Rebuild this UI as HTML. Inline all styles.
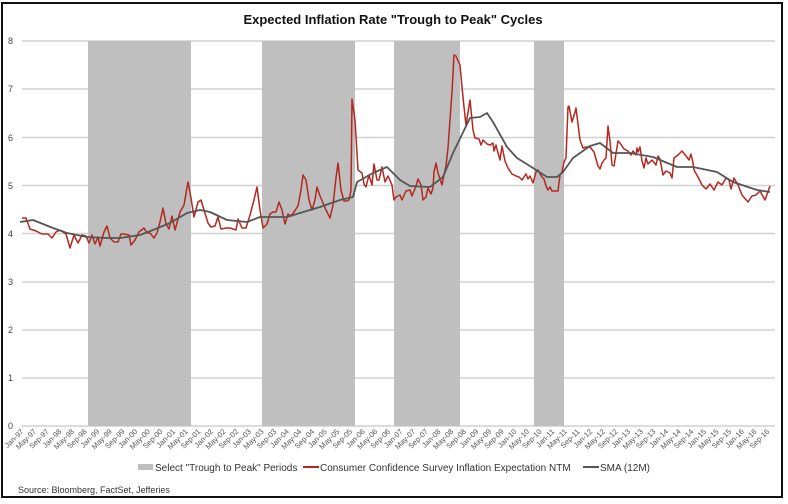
<!DOCTYPE html>
<html><head><meta charset="utf-8"><style>
html,body{margin:0;padding:0;background:#fff;}
svg{display:block;font-family:"Liberation Sans",sans-serif;}
</style></head><body>
<svg width="788" height="504" viewBox="0 0 788 504" xmlns="http://www.w3.org/2000/svg">
<rect x="0" y="0" width="788" height="504" fill="#fff"/>
<rect x="2" y="3" width="780" height="494" fill="none" stroke="#111" stroke-width="2"/>
<text x="393" y="24" text-anchor="middle" font-size="13" font-weight="bold" fill="#111">Expected Inflation Rate "Trough to Peak" Cycles</text>
<g stroke="#d0d0d0" stroke-width="1.5">
<line x1="22" y1="41" x2="775" y2="41"/><line x1="22" y1="89" x2="775" y2="89"/>
<line x1="22" y1="137.5" x2="775" y2="137.5"/><line x1="22" y1="185.5" x2="775" y2="185.5"/>
<line x1="22" y1="233.5" x2="775" y2="233.5"/><line x1="22" y1="282" x2="775" y2="282"/>
<line x1="22" y1="330" x2="775" y2="330"/><line x1="22" y1="378" x2="775" y2="378"/>
<line x1="22" y1="426" x2="775" y2="426"/>
</g>
<g fill="#bfbfbf">
<rect x="88" y="41" width="103" height="385"/>
<rect x="262" y="41" width="93" height="385"/>
<rect x="394" y="41" width="66" height="385"/>
<rect x="534" y="41" width="30" height="385"/>
</g>
<g font-size="9" fill="#444" text-anchor="end">
<text x="13" y="44">8</text><text x="13" y="92">7</text><text x="13" y="141">6</text><text x="13" y="189">5</text>
<text x="13" y="237">4</text><text x="13" y="285">3</text><text x="13" y="333">2</text><text x="13" y="381">1</text><text x="13" y="429">0</text>
</g>
<polyline fill="none" stroke="#b5281e" stroke-width="1.5" stroke-linejoin="round" points="22,218 26,218 30,229 36,231 42,234 48,234 52,238 56,232 60,230 66,234 70,248 74,235 78,243 82,235 86,236 89,243 92,235 95,244 98,237 100,246 104,232 107,226 110,238 114,242 118,242 121,234 124,234 129,235 131,245 135,240 139,232 144,228 147,233 150,233 154,238 157,233 160,222 163,208 166,224 169,229 172,216 175,230 180,212 184,205 188,182 191,198 194,217 198,202 201,200 204,210 208,223 211,227 215,226 218,217 221,229 226,228 230,228 236,230 238,219 242,228 246,228 250,215 254,200 257,187 260,210 263,228 267,224 270,214 273,212 276,212 279,202 282,210 285,224 288,214 291,216 294,212 298,206 301,190 303,175 306,180 309,200 312,210 315,200 317,187 320,196 323,203 326,210 330,218 333,205 336,178 338,163 341,190 344,201 347,201 349,200 351,190 352,99 355,120 358,170 362,173 364,184 366,187 369,175 372,185 374,164 377,180 379,180 382,167 385,182 388,176 392,185 394,200 396,197 400,195 402,200 406,191 410,190 412,196 416,186 418,179 421,185 423,200 426,197 428,188 431,194 433,188 434,172 436,163 438,173 442,185 444,175 446,166 448,148 452,92 454,55 456,56 460,65 462,87 464,107 466,125 470,100 473,130 475,138 479,139 481,145 483,140 487,144 490,145 493,143 494,151 496,145 498,153 500,160 502,146 505,161 508,168 512,174 516,176 519,177 522,180 526,174 528,179 530,176 533,183 536,172 538,170 542,177 544,179 546,186 548,190 550,187 552,191 556,191 558,191 560,175 562,172 564,162 566,158 568,107 569,106 572,122 575,112 576,108 578,124 580,140 583,148 586,147 590,147 594,152 598,166 600,169 602,163 604,160 606,158 608,126 610,141 612,165 614,166 618,141 620,143 624,149 628,151 631,155 633,151 636,155 637,148 638,152 640,147 642,161 644,168 646,158 648,164 652,160 656,165 658,156 660,159 663,175 666,171 670,173 672,178 674,158 678,155 682,151 686,156 689,160 691,154 693,163 694,170 698,177 702,185 706,189 710,184 714,190 718,182 722,185 726,178 729,180 731,189 734,178 738,185 742,195 748,202 752,196 756,195 760,191 765,200 770,186"/>
<polyline fill="none" stroke="#555" stroke-width="1.8" stroke-linejoin="round" points="20,222 33,220 53,228 67,233 87,237 107,238 120,238 140,235 153,230 170,223 187,213 200,210 210,212 227,220 247,222 260,217 287,217 300,213 320,207 340,200 353,197 357,182 373,173 387,167 392,172 400,180 410,186 430,187 443,177 453,153 470,118 480,117 487,113 493,122 507,147 517,158 533,168 547,177 557,177 563,172 573,158 590,146 600,143 613,153 630,153 653,157 677,167 693,167 717,172 733,182 757,190 770,192"/>
<g font-size="7.5" fill="#555" text-anchor="end">
<text transform="translate(24.0,432) rotate(-45)">Jan-97</text><text transform="translate(36.6,432) rotate(-45)">May-97</text><text transform="translate(49.3,432) rotate(-45)">Sep-97</text>
<text transform="translate(61.9,432) rotate(-45)">Jan-98</text><text transform="translate(74.6,432) rotate(-45)">May-98</text><text transform="translate(87.2,432) rotate(-45)">Sep-98</text>
<text transform="translate(99.8,432) rotate(-45)">Jan-99</text><text transform="translate(112.5,432) rotate(-45)">May-99</text><text transform="translate(125.1,432) rotate(-45)">Sep-99</text>
<text transform="translate(137.8,432) rotate(-45)">Jan-00</text><text transform="translate(150.4,432) rotate(-45)">May-00</text><text transform="translate(163.0,432) rotate(-45)">Sep-00</text>
<text transform="translate(175.7,432) rotate(-45)">Jan-01</text><text transform="translate(188.3,432) rotate(-45)">May-01</text><text transform="translate(201.0,432) rotate(-45)">Sep-01</text>
<text transform="translate(213.6,432) rotate(-45)">Jan-02</text><text transform="translate(226.2,432) rotate(-45)">May-02</text><text transform="translate(238.9,432) rotate(-45)">Sep-02</text>
<text transform="translate(251.5,432) rotate(-45)">Jan-03</text><text transform="translate(264.2,432) rotate(-45)">May-03</text><text transform="translate(276.8,432) rotate(-45)">Sep-03</text>
<text transform="translate(289.4,432) rotate(-45)">Jan-04</text><text transform="translate(302.1,432) rotate(-45)">May-04</text><text transform="translate(314.7,432) rotate(-45)">Sep-04</text>
<text transform="translate(327.4,432) rotate(-45)">Jan-05</text><text transform="translate(340.0,432) rotate(-45)">May-05</text><text transform="translate(352.6,432) rotate(-45)">Sep-05</text>
<text transform="translate(365.3,432) rotate(-45)">Jan-06</text><text transform="translate(377.9,432) rotate(-45)">May-06</text><text transform="translate(390.6,432) rotate(-45)">Sep-06</text>
<text transform="translate(403.2,432) rotate(-45)">Jan-07</text><text transform="translate(415.8,432) rotate(-45)">May-07</text><text transform="translate(428.5,432) rotate(-45)">Sep-07</text>
<text transform="translate(441.1,432) rotate(-45)">Jan-08</text><text transform="translate(453.8,432) rotate(-45)">May-08</text><text transform="translate(466.4,432) rotate(-45)">Sep-08</text>
<text transform="translate(479.0,432) rotate(-45)">Jan-09</text><text transform="translate(491.7,432) rotate(-45)">May-09</text><text transform="translate(504.3,432) rotate(-45)">Sep-09</text>
<text transform="translate(517.0,432) rotate(-45)">Jan-10</text><text transform="translate(529.6,432) rotate(-45)">May-10</text><text transform="translate(542.2,432) rotate(-45)">Sep-10</text>
<text transform="translate(554.9,432) rotate(-45)">Jan-11</text><text transform="translate(567.5,432) rotate(-45)">May-11</text><text transform="translate(580.2,432) rotate(-45)">Sep-11</text>
<text transform="translate(592.8,432) rotate(-45)">Jan-12</text><text transform="translate(605.4,432) rotate(-45)">May-12</text><text transform="translate(618.1,432) rotate(-45)">Sep-12</text>
<text transform="translate(630.7,432) rotate(-45)">Jan-13</text><text transform="translate(643.4,432) rotate(-45)">May-13</text><text transform="translate(656.0,432) rotate(-45)">Sep-13</text>
<text transform="translate(668.6,432) rotate(-45)">Jan-14</text><text transform="translate(681.3,432) rotate(-45)">May-14</text><text transform="translate(693.9,432) rotate(-45)">Sep-14</text>
<text transform="translate(706.6,432) rotate(-45)">Jan-15</text><text transform="translate(719.2,432) rotate(-45)">May-15</text><text transform="translate(731.8,432) rotate(-45)">Sep-15</text>
<text transform="translate(744.5,432) rotate(-45)">Jan-16</text><text transform="translate(757.1,432) rotate(-45)">May-16</text><text transform="translate(769.8,432) rotate(-45)">Sep-16</text>
</g>
<rect x="138" y="464" width="15" height="6" fill="#bfbfbf"/>
<text x="155" y="471" font-size="10" fill="#333">Select "Trough to Peak" Periods</text>
<line x1="303" y1="467" x2="319" y2="467" stroke="#b5281e" stroke-width="2"/>
<text x="320" y="471" font-size="10" fill="#333">Consumer Confidence Survey Inflation Expectation NTM</text>
<line x1="583" y1="467" x2="599" y2="467" stroke="#555" stroke-width="2"/>
<text x="600" y="471" font-size="10" fill="#333">SMA (12M)</text>
<text x="18" y="493" font-size="9" fill="#333">Source: Bloomberg, FactSet, Jefferies</text>
</svg>
</body></html>
